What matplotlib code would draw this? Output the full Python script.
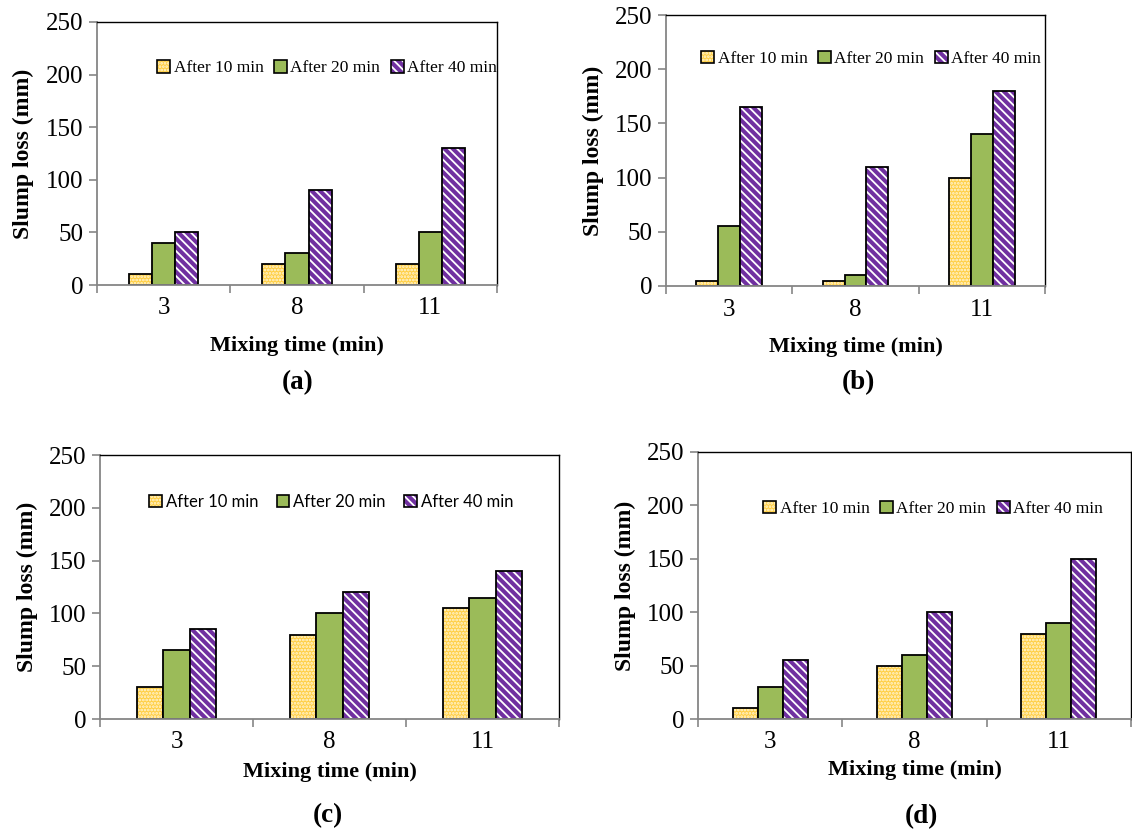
import numpy as np
import matplotlib
matplotlib.use('Agg')
from matplotlib import pyplot as plt
from matplotlib.patches import Patch
from matplotlib.legend_handler import HandlerTuple

plt.rcParams['font.family'] = 'Liberation Serif'
plt.rcParams['hatch.linewidth'] = 1.3

# data (slump loss, mm)
mixing_time = ['3', '8', '11']
series_names = ['After 10 min', 'After 20 min', 'After 40 min']

a_10 = [10, 20, 20]
a_20 = [40, 30, 50]
a_40 = [50, 90, 130]

b_10 = [5, 5, 100]
b_20 = [55, 10, 140]
b_40 = [165, 110, 180]

c_10 = [30, 80, 105]
c_20 = [65, 100, 115]
c_40 = [85, 120, 140]

d_10 = [10, 50, 80]
d_20 = [30, 60, 90]
d_40 = [55, 100, 150]

fills = ['#FFCF45', '#9BBB59', '#7030A0']
hatches = ['.....', None, '\\\\\\\\']
hatch_cols = ['#FFF6D8', '#9BBB59', 'white']
axis_grey = '#868686'
W, H = 1132, 834
bw = 0.173

fig = plt.figure(figsize=(W / 100, H / 100), dpi=100)


def px_rect(left, right, top, bottom):
    return [left / W, 1 - bottom / H, (right - left) / W, (bottom - top) / H]


def panel(rect, vals, leg_xy, leg_font, leg_pad, leg_space, xpad, cap, cap_xy):
    ax = fig.add_axes(rect)
    x = np.arange(len(mixing_time))
    for i in range(3):
        pos = x + (i - 1) * bw
        ax.bar(pos, vals[i], bw, color=fills[i], hatch=hatches[i],
               edgecolor=hatch_cols[i], linewidth=0)
        ax.bar(pos, vals[i], bw, fill=False, edgecolor='black', linewidth=1.3)
    ax.set_xlim(-0.5, 2.5)
    ax.set_ylim(0, 250)
    ax.set_yticks([0, 50, 100, 150, 200, 250])
    ax.set_xticks(x)
    ax.set_xticklabels(mixing_time)
    ax.set_xticks([-0.5, 0.5, 1.5, 2.5], minor=True)
    ax.tick_params(axis='x', which='major', length=0, labelsize=18, pad=9)
    ax.tick_params(axis='x', which='minor', length=6, color=axis_grey, width=1.2)
    ax.tick_params(axis='y', length=6, color=axis_grey, width=1.2, labelsize=18, pad=4)
    for s in ['left', 'bottom']:
        ax.spines[s].set_color(axis_grey)
        ax.spines[s].set_linewidth(1.3)
    for s in ['top', 'right']:
        ax.spines[s].set_color('black')
        ax.spines[s].set_linewidth(1.0)
    ax.set_ylabel('Slump loss (mm)', fontsize=17, fontweight='bold', labelpad=8)
    ax.set_xlabel('Mixing time (min)', fontsize=16, fontweight='bold', labelpad=xpad)

    handles = []
    for i in range(3):
        p1 = Patch(facecolor=fills[i], hatch=hatches[i], edgecolor=hatch_cols[i], linewidth=0)
        p2 = Patch(fill=False, edgecolor='black', linewidth=1.2)
        handles.append((p1, p2))
    ax.legend(handles, series_names, loc='center', bbox_to_anchor=leg_xy, ncol=3,
              frameon=False, prop=leg_font, handlelength=0.75, handleheight=0.75,
              handletextpad=leg_pad, columnspacing=leg_space, borderpad=0,
              handler_map={tuple: HandlerTuple(ndivide=1, pad=0)})
    fig.text(cap_xy[0] / W, 1 - cap_xy[1] / H, cap, fontsize=19.5, fontweight='bold',
             ha='center', va='center')
    return ax


times_leg = {'family': 'Liberation Serif', 'size': 12.5}
sans_leg = {'family': 'Lato', 'size': 12}

panel(px_rect(97, 497, 22, 285), [a_10, a_20, a_40], (0.575, 0.825), times_leg, 0.2, 0.6, 12, '(a)', (298, 383))
panel(px_rect(666, 1045, 15, 286), [b_10, b_20, b_40], (0.541, 0.838), times_leg, 0.2, 0.6, 12, '(b)', (858, 383))
panel(px_rect(100, 559, 455, 719), [c_10, c_20, c_40], (0.504, 0.822), sans_leg, 0.25, 1.1, 6, '(c)', (328, 816))
panel(px_rect(698, 1131, 452, 719), [d_10, d_20, d_40], (0.543, 0.787), times_leg, 0.2, 0.6, 5, '(d)', (921, 817))

fig.savefig('out.png', dpi=100)
